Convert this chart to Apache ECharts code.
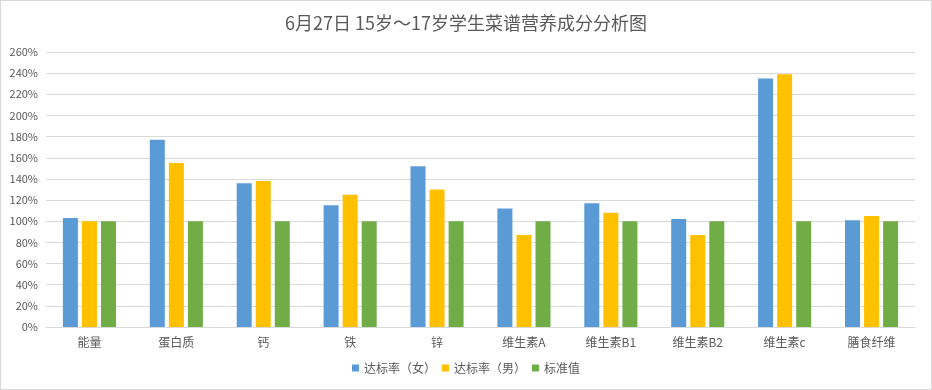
<!DOCTYPE html>
<html><head><meta charset="utf-8">
<script src="https://cdn.jsdelivr.net/npm/echarts@6/dist/echarts.min.js"></script>
<style>html,body{margin:0;padding:0;background:#fff;}#c{width:932px;height:390px;box-sizing:border-box;border:1px solid #d9d9d9;}</style>
</head><body><div id="c"></div>
<script>
const categories = ['能量','蛋白质','钙','铁','锌','维生素A','维生素B1','维生素B2','维生素c','膳食纤维'];
const female = [103,177,136,115,152,112,117,102,235,101];
const male = [100,155,138,125,130,87,108,87,239,105];
const standard = [100,100,100,100,100,100,100,100,100,100];
const seriesNames = ['达标率（女）','达标率（男）','标准值'];
const colors = ['#5b9bd5','#ffc000','#70ad47'];
const chart = echarts.init(document.getElementById('c'));
const font = '"Noto Sans CJK SC", "Noto Sans", sans-serif';
chart.setOption({
  animation:false,
  textStyle:{fontFamily:font},
  title:{text:'6月27日 15岁～17岁学生菜谱营养成分分析图',left:'center',top:8,
    textStyle:{fontSize:18,fontWeight:'normal',color:'#595959',fontFamily:font}},
  legend:{data:seriesNames,bottom:10,left:'center',itemWidth:7,itemHeight:7,itemGap:6,
    icon:'rect',textStyle:{fontSize:12,color:'#595959'}},
  grid:{left:45,right:16,top:51,bottom:62,containLabel:false},
  xAxis:{type:'category',data:categories,
    axisLine:{lineStyle:{color:'#d9d9d9'}},axisTick:{show:false},
    axisLabel:{color:'#595959',fontSize:12,margin:9}},
  yAxis:{type:'value',min:0,max:260,interval:20,
    axisLine:{show:false},axisTick:{show:false},
    splitLine:{lineStyle:{color:'#d9d9d9'}},
    axisLabel:{formatter:'{value}%',color:'#595959',fontSize:11,margin:8}},
  series:[
    {name:seriesNames[0],type:'bar',data:female,barWidth:15,barGap:'27%',itemStyle:{color:colors[0]}},
    {name:seriesNames[1],type:'bar',data:male,barWidth:15,barGap:'27%',itemStyle:{color:colors[1]}},
    {name:seriesNames[2],type:'bar',data:standard,barWidth:15,barGap:'27%',itemStyle:{color:colors[2]}}
  ]
});
</script></body></html>
